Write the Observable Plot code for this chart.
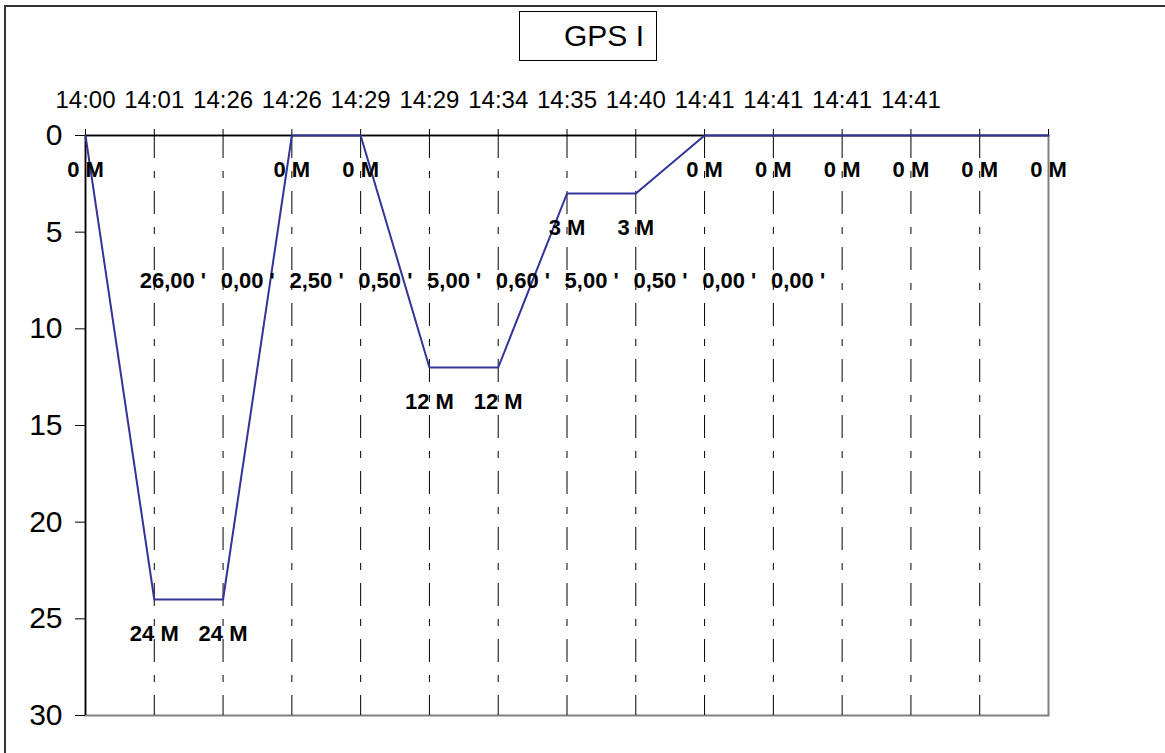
<!DOCTYPE html>
<html>
<head>
<meta charset="utf-8">
<script src="https://cdn.jsdelivr.net/npm/d3@7"></script>
<script src="https://cdn.jsdelivr.net/npm/@observablehq/plot@0.6"></script>
<style>
  html, body { margin: 0; padding: 0; background: #fff; }
  #wrap { position: relative; width: 1165px; height: 753px; overflow: hidden; font-family: "Liberation Sans", Arial, sans-serif; }
  #chart { position: absolute; left: 0; top: 0; }
  #outer { position: absolute; left: 4px; top: 5px; width: 1300px; height: 900px; border-left: 2px solid #333; border-top: 2px solid #333; pointer-events: none; }
  #title { position: absolute; left: 519px; top: 11px; width: 136px; height: 48px; border: 1px solid #000; background: #fff;
           font-size: 30px; line-height: 48px; padding-left: 0; box-sizing: content-box; color: #000; white-space: pre; }
  #title span { position: absolute; left: 44px; top: 0; }
</style>
</head>
<body>
<div id="wrap">
  <div id="chart"></div>
  <div id="outer"></div>
  <div id="title"><span>GPS I</span></div>
</div>
<script>
// Category (time) labels along the top axis
const times = ["14:00","14:01","14:26","14:26","14:29","14:29","14:34","14:35","14:40","14:41","14:41","14:41","14:41"];
// Depth (m) at each point of the dive profile
const depths = [0, 24, 24, 0, 0, 12, 12, 3, 3, 0, 0, 0, 0, 0, 0];
// Duration labels between points
const durations = ["26,00 '", "0,00 '", "2,50 '", "0,50 '", "5,00 '", "0,60 '", "5,00 '", "0,50 '", "0,00 '", "0,00 '"];
// Y-axis ticks
const yTicks = [0, 5, 10, 15, 20, 25, 30];

const idx = d3.range(depths.length);
const gridIdx = d3.range(1, depths.length - 1);
const durIdx = d3.range(durations.length);

const chart = Plot.plot({
  width: 1165,
  height: 753,
  marginLeft: 85,
  marginRight: 117,
  marginTop: 135,
  marginBottom: 38,
  style: { fontFamily: "'Liberation Sans', Arial, sans-serif", background: "transparent", color: "#000" },
  x: { domain: [0, depths.length - 1] },
  y: { domain: [0, 30], reverse: true },
  marks: [
    Plot.frame({ stroke: "#808080", strokeWidth: 2 }),
    Plot.ruleX(gridIdx, { x: d => d, y1: 0, y2: 30, stroke: "#000", strokeWidth: 1, strokeDasharray: "23,13,7,13" }),
    Plot.ruleY([0], { stroke: "#000", strokeWidth: 1.5 }),
    Plot.ruleX([0], { stroke: "#000", strokeWidth: 1.5 }),
    Plot.axisY(yTicks, { anchor: "left", tickSize: 10, tickPadding: 13, fontSize: 30, label: null, stroke: "#000" }),
    Plot.axisX(idx, { anchor: "top", tickSize: 7, tickPadding: 21, fontSize: 24, label: null,
      tickFormat: i => times[i] ?? "" }),
    Plot.line(idx, { x: i => i, y: i => depths[i], stroke: "#333399", strokeWidth: 2 }),
    Plot.text(idx, { x: i => i, y: i => depths[i], text: i => depths[i] + " M", dy: 34,
      fontSize: 22, fontWeight: "bold", fill: "#000", textAnchor: "middle" }),
    Plot.text(durIdx, { x: i => i + 2, y: () => 7.5, text: i => durations[i], dx: -17,
      fontSize: 22, fontWeight: "bold", fill: "#000", textAnchor: "end" })
  ]
});
document.getElementById("chart").appendChild(chart);
</script>
</body>
</html>
